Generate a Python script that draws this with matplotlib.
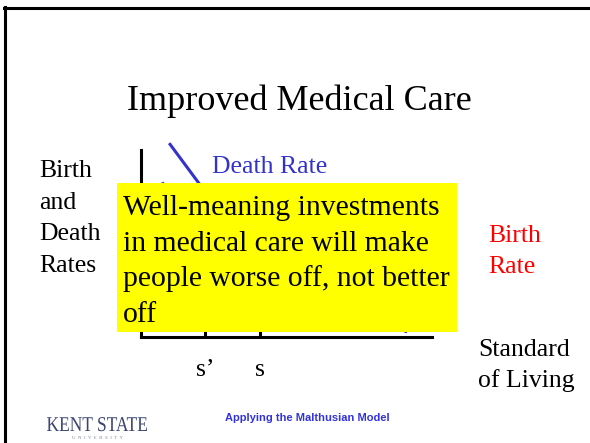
import matplotlib
matplotlib.use("Agg")
import matplotlib.pyplot as plt
from matplotlib.patches import Rectangle, PathPatch
from matplotlib.lines import Line2D
from matplotlib.textpath import TextPath
from matplotlib.font_manager import FontProperties
from matplotlib.transforms import Affine2D

# ---- data ----
title = "Improved Medical Care"
y_label_lines = ["Birth", "and", "Death", "Rates"]
x_label_lines = ["Standard", "of Living"]
birth_label_lines = ["Birth", "Rate"]
death_label = "Death Rate"
tick_positions = [2.2, 4.1]
tick_labels = ["s\u2019", "s"]
death_x = [1.0, 2.0, 3.0, 4.5, 6.5, 9.1]
death_y = [10.3, 8.2, 6.3, 4.2, 2.0, 0.3]
death_new_x = [0.75, 1.5, 2.2, 3.5, 5.5, 8.0]
death_new_y = [8.2, 5.9, 3.74, 2.3, 1.2, 0.4]
birth_x = [1.0, 9.5]
birth_y = [3.2, 7.0]
box_lines = ["Well-meaning investments", "in medical care will make",
             "people worse off, not better", "off"]
footer = "Applying the Malthusian Model"

W, H, DPI = 590, 443, 100
SERIF = "Liberation Serif"
BLUE = "#3333CC"

fig = plt.figure(figsize=(W / DPI, H / DPI), dpi=DPI)
fig.patch.set_facecolor("white")


def fx(x):
    return x / W


def fy(y):
    return 1 - y / H


# slide border (top and left)
fig.add_artist(Line2D([fx(4), fx(590)], [fy(8), fy(8)], color="black", lw=2.2,
                      transform=fig.transFigure))
fig.add_artist(Line2D([fx(5), fx(5)], [fy(7), fy(443)], color="black", lw=2.2,
                      transform=fig.transFigure))

# title
fig.text(fx(299), fy(110), title, ha="center", va="baseline",
         fontsize=26, family=SERIF, color="black")

# chart axes
ax = fig.add_axes([fx(141), fy(337), (432 - 141) / W, (337 - 150) / H])
ax.set_xlim(0, 10)
ax.set_ylim(0, 10)
ax.set_facecolor("none")
for s in ["top", "right"]:
    ax.spines[s].set_visible(False)
for s in ["left", "bottom"]:
    ax.spines[s].set_linewidth(2.2)
    ax.spines[s].set_color("black")
    ax.spines[s].set_capstyle("projecting")
ax.set_yticks([])
ax.set_xticks(tick_positions)
ax.set_xticklabels(tick_labels, fontsize=18.5, family=SERIF)
ax.tick_params(axis="x", direction="in", length=7.5, width=2.2, pad=16)

ax.plot(death_x, death_y, color=BLUE, lw=2.2, clip_on=False)
ax.plot(death_new_x, death_new_y, color=BLUE, lw=2.2, clip_on=False)
ax.plot(birth_x, birth_y, color="red", lw=2.2, clip_on=False)

# labels
for i, t in enumerate(y_label_lines):
    fig.text(fx(39), fy(177 + i * 31.7), t, ha="left", va="baseline",
             fontsize=18.5, family=SERIF, color="black")
for i, t in enumerate(birth_label_lines):
    fig.text(fx(488), fy(242 + i * 31), t, ha="left", va="baseline",
             fontsize=18.5, family=SERIF, color="red")
for i, t in enumerate(x_label_lines):
    fig.text(fx(478), fy(356 + i * 31), t, ha="left", va="baseline",
             fontsize=18.5, family=SERIF, color="black")
fig.text(fx(212), fy(173), death_label, ha="left", va="baseline",
         fontsize=18.5, family=SERIF, color=BLUE)

# yellow callout box
fig.add_artist(Rectangle((fx(117), fy(332)), (457 - 117) / W, (332 - 183) / H,
                         transform=fig.transFigure, facecolor="#FFFF00",
                         edgecolor="none", zorder=5))
for i, t in enumerate(box_lines):
    fig.text(fx(123), fy(215 + i * 35.7), t, ha="left", va="baseline",
             fontsize=21.3, family=SERIF, color="black", zorder=6)

# footer
fig.text(fx(225), fy(418), footer, ha="left", va="center", fontsize=8,
         family="Liberation Sans", weight="bold", color="#3333DD")

# logo text (condensed)
tp = TextPath((0, 0), "KENT STATE", size=21,
              prop=FontProperties(family=SERIF))
ext = tp.get_extents()
sx = 100 / ext.width
tr = (Affine2D().translate(-ext.x0, 0).scale(sx, 1)
      .translate(47, H - 431).scale(1 / DPI) + fig.dpi_scale_trans)
fig.add_artist(PathPatch(tp, transform=tr, facecolor="#3A4470",
                         edgecolor="none"))
fig.text(fx(97), fy(438), "U  N  I  V  E  R  S  I  T  Y", ha="center",
         va="center", fontsize=3.5, family=SERIF, color="#8088A0")

fig.savefig("out.png", dpi=DPI)
